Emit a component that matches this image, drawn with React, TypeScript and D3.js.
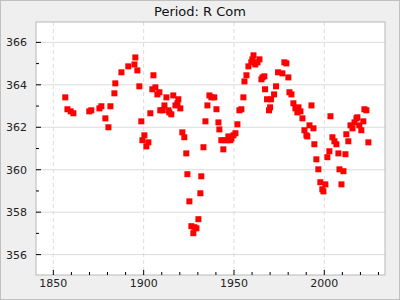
import React from "react";
import * as d3 from "d3";

const title = "Period: R Com";
const years = [
  1856.6, 1857.8, 1859.6, 1861.1, 1869.9, 1871.0, 1875.5, 1876.6, 1878.8, 1880.5,
  1881.6, 1883.8, 1884.3, 1887.7, 1891.5, 1894.9, 1895.4, 1896.5, 1897.6, 1898.7,
  1900.4, 1899.3, 1902.6, 1901.5, 1903.7, 1905.4, 1904.8, 1906.5, 1907.6, 1908.7,
  1909.2, 1910.4, 1911.5, 1912.6, 1913.7, 1914.2, 1915.3, 1916.4, 1917.6, 1918.7,
  1919.2, 1920.3, 1921.4, 1922.5, 1923.6, 1924.2, 1925.3, 1926.4, 1927.5, 1928.1,
  1929.2, 1930.3, 1931.4, 1931.9, 1933.1, 1934.2, 1935.3, 1936.4, 1937.5, 1939.1,
  1940.3, 1941.4, 1941.9, 1943.0, 1944.1, 1944.7, 1946.3, 1946.9, 1948.0, 1948.6,
  1949.7, 1950.8, 1951.9, 1953.0, 1954.1, 1955.2, 1955.8, 1956.9, 1958.0, 1959.6,
  1960.2, 1960.8, 1961.8, 1963.0, 1964.1, 1965.2, 1965.8, 1966.8, 1967.2, 1968.3,
  1970.5, 1969.4, 1970.0, 1972.2, 1973.3, 1974.4, 1976.8, 1977.9, 1979.0, 1980.1,
  1980.7, 1981.8, 1982.9, 1984.0, 1985.7, 1985.1, 1986.8, 1987.9, 1992.9, 1991.8,
  1994.0, 1989.0, 1990.1, 1990.6, 1994.5, 1995.6, 1996.7, 1997.8, 1998.9, 1999.5,
  2000.6, 2001.7, 2002.8, 2003.4, 2004.5, 2005.6, 2006.7, 2007.8, 2008.4, 2009.5,
  2010.6, 2011.7, 2012.2, 2013.3, 2014.5, 2015.6, 2016.7, 2017.8, 2018.3, 2019.4,
  2020.5, 2021.6, 2022.2, 2023.3, 2024.4,
];
const periods = [
  363.41, 362.85, 362.75, 362.66, 362.75, 362.80, 362.89, 362.99, 362.42, 362.00,
  362.99, 363.60, 364.07, 364.59, 364.87, 364.96, 365.29, 364.68, 363.93, 362.28,
  361.62, 361.39, 361.29, 361.10, 362.66, 364.45, 363.79, 363.88, 363.55, 363.65,
  362.80, 362.80, 363.03, 363.41, 362.80, 362.70, 362.61, 363.50, 363.03, 363.13,
  363.32, 362.89, 361.76, 361.53, 360.77, 359.79, 358.51, 357.34, 357.01, 357.29,
  357.24, 357.67, 358.89, 359.69, 361.06, 362.28, 363.03, 363.50, 363.41, 363.41,
  362.85, 362.23, 361.90, 361.39, 360.96, 361.39, 361.39, 361.57, 361.39, 361.48,
  361.62, 361.72, 362.14, 362.80, 362.85, 363.41, 364.16, 364.45, 364.87, 365.06,
  365.20, 365.39, 364.96, 365.06, 365.20, 364.26, 364.35, 364.40, 363.79, 363.32,
  363.32, 362.80, 362.94, 363.55, 363.93, 364.59, 364.54, 365.06, 365.01, 364.35,
  363.65, 363.55, 363.13, 362.89, 362.94, 362.70, 362.75, 362.42, 363.03, 362.09,
  361.95, 361.86, 361.62, 361.57, 361.20, 360.49, 360.02, 359.41, 359.08, 358.98,
  359.31, 360.59, 360.87, 362.52, 361.53, 361.34, 361.20, 360.77, 360.02, 359.31,
  359.93, 360.73, 361.67, 361.34, 362.09, 361.95, 362.23, 362.42, 362.47, 362.09,
  361.86, 362.28, 362.85, 362.80, 361.29,
];
const xMajorTicks = [1850, 1900, 1950, 2000];
const xMinorTicks = [1860, 1870, 1880, 1890, 1910, 1920, 1930, 1940, 1960, 1970, 1980, 1990, 2010, 2020, 2030];
const yMajorTicks = [356, 358, 360, 362, 364, 366];
const yMinorTicks = [357, 359, 361, 363, 365];

const W = 400, H = 300;
const L = 36, R = 385, T = 22, B = 275;
const font = "DejaVu Sans, sans-serif";

export default function App() {
  const x = d3.scaleLinear().domain([1840.4, 2033.6]).range([L, R]);
  const y = d3.scaleLinear().domain([355.04, 366.96]).range([B, T]);
  const sz = 6;
  return (
    <svg width={W} height={H} style={{ position: "absolute", left: 0, top: 0 }}>
      <rect x={0.5} y={0.5} width={W - 1} height={H - 1} fill="#efefef" stroke="#c0c0c0" />
      <text x={W / 2} y={16} textAnchor="middle" fontFamily={font} fontSize={13} fill="#111">{title}</text>
      <rect x={L} y={T} width={R - L} height={B - T} fill="#fff" />
      {yMajorTicks.map((t) => (
        <line key={"gy" + t} x1={L} x2={R} y1={y(t)} y2={y(t)} stroke="#dcdcdc" strokeWidth={1} />
      ))}
      {xMajorTicks.map((t) => (
        <line key={"gx" + t} x1={x(t)} x2={x(t)} y1={T} y2={B} stroke="#dcdcdc" strokeWidth={1} strokeDasharray="4,3" />
      ))}
      {years.map((yr, i) => (
        <rect key={"p" + i} x={x(yr) - sz / 2} y={y(periods[i]) - sz / 2} width={sz} height={sz} fill="#ff0000" />
      ))}
      <rect x={L} y={T} width={R - L} height={B - T} fill="none" stroke="#b8b8b8" />
      {yMajorTicks.map((t) => (
        <g key={"yt" + t}>
          <line x1={L} x2={L + 5} y1={y(t)} y2={y(t)} stroke="#000" />
          <text x={27} y={y(t) + 4} textAnchor="end" fontFamily={font} fontSize={11} fill="#222">{t}</text>
        </g>
      ))}
      {yMinorTicks.map((t) => (
        <line key={"ym" + t} x1={L} x2={L + 3} y1={y(t)} y2={y(t)} stroke="#000" />
      ))}
      {xMajorTicks.map((t) => (
        <g key={"xt" + t}>
          <line x1={x(t)} x2={x(t)} y1={B} y2={B - 5} stroke="#000" />
          <text x={x(t)} y={287} textAnchor="middle" fontFamily={font} fontSize={11} fill="#222">{t}</text>
        </g>
      ))}
      {xMinorTicks.map((t) => (
        <line key={"xm" + t} x1={x(t)} x2={x(t)} y1={B} y2={B - 3} stroke="#000" />
      ))}
    </svg>
  );
}
